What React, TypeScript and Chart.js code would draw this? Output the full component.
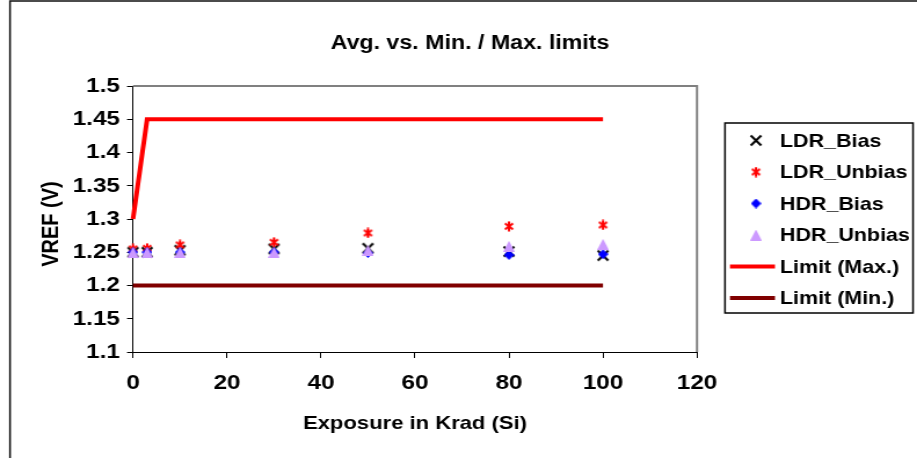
import React, { useEffect, useRef } from "react";
import { Chart, registerables } from "chart.js";

Chart.register(...registerables);

// ---------- data ----------
const exposure = [0, 3, 10, 30, 50, 80, 100];
const ldrBias = [1.25, 1.25, 1.253, 1.255, 1.256, 1.251, 1.245];
const ldrUnbias = [1.255, 1.256, 1.261, 1.265, 1.279, 1.289, 1.291];
const hdrBias = [1.25, 1.25, 1.25, 1.25, 1.249, 1.246, 1.247];
const hdrUnbias = [1.25, 1.25, 1.25, 1.25, 1.253, 1.259, 1.262];
const limitMaxX = [0, 3, 100];
const limitMaxY = [1.3, 1.45, 1.45];
const limitMinX = [0, 100];
const limitMinY = [1.2, 1.2];
const seriesNames = ["LDR_Bias", "LDR_Unbias", "HDR_Bias", "HDR_Unbias", "Limit (Max.)", "Limit (Min.)"];
const titleText = "Avg. vs. Min. / Max. limits";
const xTitleText = "Exposure in Krad (Si)";
const yTitleText = "VREF (V)";
const xMin = 0, xMax = 120, xStep = 20;
const yMin = 1.1, yMax = 1.5, yStep = 0.05;

// ---------- layout (design coords, stretched horizontally afterwards) ----------
const OUT_W = 917;
const H = 458;
const W = 791;
const SX = OUT_W / W;
const PLOT_LEFT = 133 / SX;
const PLOT_RIGHT = 697 / SX;
const PLOT_TOP = 86;
const PLOT_BOTTOM = 352;
const FONT = "'Liberation Sans', Arial, sans-serif";

const COLORS = {
  ldrBias: "#000000",
  ldrUnbias: "#FF0000",
  hdrBias: "#0000FF",
  hdrUnbias: "#CC99FF",
  limMax: "#FF0000",
  limMin: "#800000",
};

function makeCanvas(w: number, h: number, draw: (ctx: CanvasRenderingContext2D) => void) {
  const c = document.createElement("canvas");
  c.width = w;
  c.height = h;
  const ctx = c.getContext("2d")!;
  draw(ctx);
  return c;
}

function makeMarkers() {
  const xMark = makeCanvas(12, 13, (ctx) => {
    ctx.strokeStyle = COLORS.ldrBias;
    ctx.lineWidth = 2;
    ctx.beginPath();
    ctx.moveTo(1.5, 1.5); ctx.lineTo(10.5, 11.5);
    ctx.moveTo(10.5, 1.5); ctx.lineTo(1.5, 11.5);
    ctx.stroke();
  });
  const star = makeCanvas(10, 11, (ctx) => {
    ctx.strokeStyle = COLORS.ldrUnbias;
    ctx.lineWidth = 2;
    ctx.beginPath();
    ctx.moveTo(1.5, 2.5); ctx.lineTo(8.5, 8.5);
    ctx.moveTo(8.5, 2.5); ctx.lineTo(1.5, 8.5);
    ctx.moveTo(5, 0.5); ctx.lineTo(5, 10.5);
    ctx.stroke();
  });
  const diamond = makeCanvas(9, 10, (ctx) => {
    ctx.fillStyle = COLORS.hdrBias;
    ctx.beginPath();
    ctx.moveTo(4.5, 0); ctx.lineTo(9, 5); ctx.lineTo(4.5, 10); ctx.lineTo(0, 5);
    ctx.closePath();
    ctx.fill();
  });
  const tri = makeCanvas(10, 11, (ctx) => {
    ctx.fillStyle = COLORS.hdrUnbias;
    ctx.beginPath();
    ctx.moveTo(5, 0); ctx.lineTo(10, 11); ctx.lineTo(0, 11);
    ctx.closePath();
    ctx.fill();
  });
  return { xMark, star, diamond, tri };
}

const pts = (xs: number[], ys: number[]) => xs.map((x, i) => ({ x, y: ys[i] }));

export default function App() {
  const ref = useRef<HTMLCanvasElement>(null);

  useEffect(() => {
    const canvas = ref.current!;
    const m = makeMarkers();

    const decor = {
      id: "decor",
      beforeDatasetsDraw(chart: any) {
        const ctx = chart.ctx;
        const ca = chart.chartArea;
        ctx.save();
        ctx.strokeStyle = "#808080";
        ctx.lineWidth = 2;
        ctx.beginPath();
        ctx.moveTo(ca.left, ca.top);
        ctx.lineTo(ca.right, ca.top);
        ctx.lineTo(ca.right, ca.bottom);
        ctx.stroke();
        ctx.restore();
      },
      afterDraw(chart: any) {
        const ctx = chart.ctx;
        const ca = chart.chartArea;
        ctx.save();
        // outer frame
        ctx.strokeStyle = "#111";
        ctx.lineWidth = 1.5;
        ctx.beginPath();
        ctx.moveTo(10 / SX, H);
        ctx.lineTo(10 / SX, 1);
        ctx.lineTo(W, 1);
        ctx.stroke();

        ctx.fillStyle = "#000";
        // chart title
        ctx.font = `bold 20px ${FONT}`;
        ctx.textAlign = "center";
        ctx.textBaseline = "middle";
        ctx.fillText(titleText, 470 / SX, 43);
        // x title
        ctx.font = `bold 19px ${FONT}`;
        ctx.fillText(xTitleText, (ca.left + ca.right) / 2, 424);
        // y title
        ctx.font = `bold 20px ${FONT}`;
        ctx.save();
        ctx.translate(51 / SX, 224);
        ctx.rotate(-Math.PI / 2);
        ctx.fillText(yTitleText, 0, 0);
        ctx.restore();

        // legend
        const bx = 725 / SX, by = 123, bw = (913 - 725) / SX, bh = 190;
        ctx.fillStyle = "#fff";
        ctx.fillRect(bx, by, bw, bh);
        ctx.strokeStyle = "#000";
        ctx.lineWidth = 1.5;
        ctx.strokeRect(bx, by, bw, bh);
        const markX = 756 / SX;
        const textX = 780 / SX;
        const rowY = [140.5, 172, 203.5, 235, 266.5, 298];
        const imgs = [m.xMark, m.star, m.diamond, m.tri];
        ctx.font = `bold 18.5px ${FONT}`;
        ctx.textAlign = "left";
        ctx.textBaseline = "middle";
        seriesNames.forEach((name, i) => {
          const y = rowY[i];
          if (i < 4) {
            const img = imgs[i];
            ctx.drawImage(img, markX - img.width / 2, y - img.height / 2);
          } else {
            ctx.strokeStyle = i === 4 ? COLORS.limMax : COLORS.limMin;
            ctx.lineWidth = 4;
            ctx.beginPath();
            ctx.moveTo(730 / SX, y);
            ctx.lineTo(775 / SX, y);
            ctx.stroke();
          }
          ctx.fillStyle = "#000";
          ctx.fillText(name, textX, y + 1);
        });
        ctx.restore();
      },
    };

    const tickFont = { family: FONT, size: 21, weight: "bold" as const };

    const chart = new Chart(canvas, {
      type: "scatter",
      data: {
        datasets: [
          { label: seriesNames[0], data: pts(exposure, ldrBias), pointStyle: m.xMark as any, showLine: false, order: 4, clip: false as any },
          { label: seriesNames[1], data: pts(exposure, ldrUnbias), pointStyle: m.star as any, showLine: false, order: 3, clip: false as any },
          { label: seriesNames[2], data: pts(exposure, hdrBias), pointStyle: m.diamond as any, showLine: false, order: 2, clip: false as any },
          { label: seriesNames[3], data: pts(exposure, hdrUnbias), pointStyle: m.tri as any, showLine: false, order: 1, clip: false as any },
          { label: seriesNames[4], data: pts(limitMaxX, limitMaxY), showLine: true, borderColor: COLORS.limMax, borderWidth: 4, pointRadius: 0, order: 6, clip: false as any, borderJoinStyle: "miter" as any },
          { label: seriesNames[5], data: pts(limitMinX, limitMinY), showLine: true, borderColor: COLORS.limMin, borderWidth: 4, pointRadius: 0, order: 5, clip: false as any },
        ],
      },
      options: {
        animation: false,
        responsive: false,
        events: [],
        layout: { padding: { left: 0, right: W - PLOT_RIGHT, top: PLOT_TOP, bottom: 0 } },
        plugins: {
          legend: { display: false },
          title: { display: false },
          tooltip: { enabled: false },
        },
        scales: {
          x: {
            type: "linear",
            min: xMin,
            max: xMax,
            ticks: { stepSize: xStep, color: "#000", font: tickFont, padding: 13, maxRotation: 0, autoSkip: false },
            grid: { drawOnChartArea: false, drawTicks: true, tickLength: 6, color: "#000", lineWidth: 1 },
            border: { display: true, color: "#000", width: 1 },
            afterFit: (s: any) => { s.height = H - PLOT_BOTTOM; },
          },
          y: {
            type: "linear",
            min: yMin,
            max: yMax,
            ticks: {
              stepSize: yStep,
              color: "#000",
              font: tickFont,
              padding: 6,
              autoSkip: false,
              callback: (v: any) => String(parseFloat(Number(v).toFixed(2))),
            },
            grid: { drawOnChartArea: false, drawTicks: true, tickLength: 6 / SX, color: "#000", lineWidth: 1 },
            border: { display: true, color: "#000", width: 1 },
            afterFit: (s: any) => { s.width = PLOT_LEFT; },
          },
        },
      },
      plugins: [decor],
    });
    return () => chart.destroy();
  }, []);

  return (
    <div style={{ position: "fixed", left: 0, top: 0, width: OUT_W, height: H, overflow: "hidden", background: "#fff" }}>
      <div style={{ width: W, height: H, transform: `scaleX(${SX})`, transformOrigin: "0 0" }}>
        <canvas ref={ref} width={W} height={H} style={{ display: "block" }} />
      </div>
    </div>
  );
}
